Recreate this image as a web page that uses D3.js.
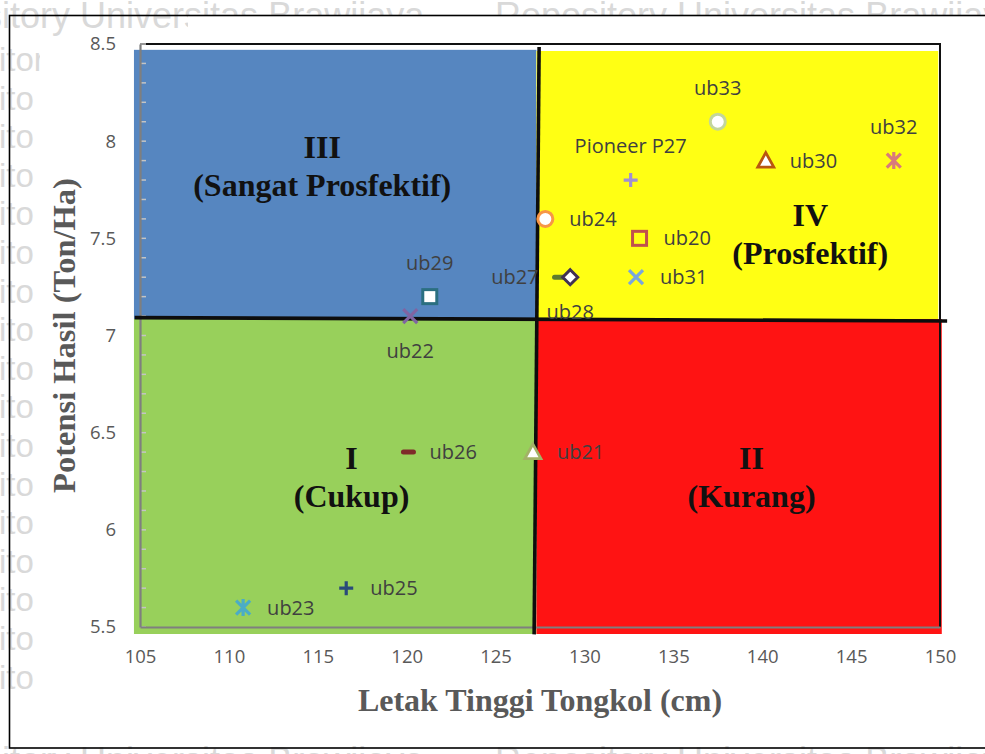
<!DOCTYPE html>
<html>
<head>
<meta charset="utf-8">
<script src="https://cdn.jsdelivr.net/npm/d3@7"></script>
<style>
  html, body { margin: 0; padding: 0; background: #fff; }
  svg { display: block; }
</style>
</head>
<body>
<svg id="chart" width="985" height="754"></svg>
<script>
// Genotype positions: ear height (cm) against yield potential (ton/ha)
const genotypes = ["ub33", "ub32", "ub30", "Pioneer P27", "ub24", "ub20", "ub27", "ub28", "ub31",
                   "ub29", "ub22", "ub26", "ub21", "ub25", "ub23"];
const earHeight = [137.5, 147.4, 140.2, 132.6, 127.8, 133.1, 128.6, 129.2, 132.9,
                   121.3, 120.2, 120.1, 127.1, 116.6, 110.8];
const yieldPotential = [8.1, 7.9, 7.9, 7.8, 7.6, 7.5, 7.3, 7.3, 7.3,
                        7.2, 7.1, 6.4, 6.4, 5.7, 5.6];

// Axis ticks
const xTicks = [105, 110, 115, 120, 125, 130, 135, 140, 145, 150];
const yTicks = [5.5, 6, 6.5, 7, 7.5, 8, 8.5];
const yMinorTicks = d3.range(55, 86).map(d => d / 10);

// Quadrant split (mean ear height, mean yield) and the extent of the shaded blocks
const splitX = 127.3;
const splitY = 7.085;
const blockX = [104.66, 150.1];
const blockY = [5.464, 8.47];
const quadrants = [
  { id: "III", name: "(Sangat Prosfektif)" },
  { id: "IV",  name: "(Prosfektif)" },
  { id: "I",   name: "(Cukup)" },
  { id: "II",  name: "(Kurang)" }
];

// Marker styling per genotype
const markerStyle = {
  "ub33":        { shape: "circle",   color: "#c3d69b", label: "above" },
  "ub32":        { shape: "asterisk", color: "#d9797c", label: "above" },
  "ub30":        { shape: "triangle", color: "#b9560f", label: "right" },
  "Pioneer P27": { shape: "plus",     color: "#a08fd2", label: "above" },
  "ub24":        { shape: "circle",   color: "#f79646", label: "right" },
  "ub20":        { shape: "squareOpen", color: "#c0504d", label: "right" },
  "ub27":        { shape: "dash",     color: "#5e7a2e", label: "left" },
  "ub28":        { shape: "diamond",  color: "#403152", label: "below" },
  "ub31":        { shape: "x",        color: "#7aa6dc", label: "right" },
  "ub29":        { shape: "square",   color: "#2b6f80", label: "above" },
  "ub22":        { shape: "x",        color: "#8064a2", label: "below" },
  "ub26":        { shape: "dash",     color: "#7f2b2a", label: "right" },
  "ub21":        { shape: "triangle", color: "#a2b266", label: "right" },
  "ub25":        { shape: "plus",     color: "#2a4a7a", label: "right" },
  "ub23":        { shape: "asterisk", color: "#4bacc6", label: "right" }
};

const svg = d3.select("#chart");
const W = 985, H = 754;

const x = d3.scaleLinear().domain([105, 150]).range([140, 940]);
const y = d3.scaleLinear().domain([5.5, 8.5]).range([627, 44]);

svg.append("rect").attr("width", W).attr("height", H).attr("fill", "#fff");

// Repository watermark behind the chart
const defs = svg.append("defs");
const wmClip = defs.append("clipPath").attr("id", "wm-clip");
wmClip.append("rect").attr("x", 0).attr("y", 0).attr("width", W).attr("height", 15);
wmClip.append("rect").attr("x", 0).attr("y", 0).attr("width", 188).attr("height", 37);
wmClip.append("rect").attr("x", 0).attr("y", 0).attr("width", 40).attr("height", H);
wmClip.append("rect").attr("x", 0).attr("y", 741).attr("width", W).attr("height", 20);

const wm = svg.append("g").attr("clip-path", "url(#wm-clip)")
  .attr("fill", "#d9d9d9")
  .style("font-family", "'Liberation Sans', Arial, sans-serif");
const wmPhrase = "Repository Universitas Brawijaya";
[28, 773].forEach(base => {
  wm.append("text").attr("x", -102).attr("y", base).style("font-size", "36px").text(wmPhrase);
  wm.append("text").attr("x", 495).attr("y", base).style("font-size", "36px").text(wmPhrase);
});
const sideRows = d3.range(0, 17).map(i => 71 + i * 38.6);
wm.selectAll("text.side").data(sideRows).join("text")
  .attr("class", "side")
  .attr("x", -1).attr("y", d => d)
  .style("font-size", "33px")
  .text((d, i) => i === 0 ? "itor" : "ito");

// Outer chart frame
svg.append("rect")
  .attr("x", 9.5).attr("y", 15.5).attr("width", 1000).attr("height", 732.5)
  .attr("fill", "none").attr("stroke", "#000").attr("stroke-width", 1.6);

// Shaded quadrant blocks
const blocks = [
  { x0: blockX[0], x1: splitX, y0: splitY, y1: blockY[1], fill: "#5686c0" },
  { x0: splitX, x1: 149.9, y0: splitY, y1: 8.464, fill: "#ffff14" },
  { x0: blockX[0], x1: splitX, y0: blockY[0], y1: splitY, fill: "#98d05b" },
  { x0: splitX, x1: blockX[1], y0: blockY[0], y1: splitY, fill: "#ff1313" }
];
svg.append("g").selectAll("rect").data(blocks).join("rect")
  .attr("x", d => x(d.x0))
  .attr("y", d => y(d.y1))
  .attr("width", d => x(d.x1) - x(d.x0))
  .attr("height", d => y(d.y0) - y(d.y1))
  .attr("fill", d => d.fill);

// Plot frame: top and right edges
svg.append("path")
  .attr("d", `M${x(105)},${y(8.5)}H${x(150)}V${y(5.5)}`)
  .attr("fill", "none").attr("stroke", "#111").attr("stroke-width", 2);

// Minor ticks on the value axis
svg.append("g").selectAll("line").data(yMinorTicks).join("line")
  .attr("x1", x(105)).attr("x2", x(105) + 6)
  .attr("y1", d => y(d)).attr("y2", d => y(d))
  .attr("stroke", "#c4c4c4").attr("stroke-width", 1.5);

// Axes
const tickFont = "'Open Sans', sans-serif";
const yAxis = svg.append("g").attr("transform", `translate(${x(105)},0)`)
  .call(d3.axisLeft(y).tickValues(yTicks).tickSize(0).tickPadding(24).tickFormat(d => String(d)));
const xAxis = svg.append("g").attr("transform", `translate(0,${y(5.5)})`)
  .call(d3.axisBottom(x).tickValues(xTicks).tickSize(0).tickPadding(23).tickFormat(d => String(d)));
[xAxis, yAxis].forEach(g => {
  g.select(".domain").attr("stroke", "#7f7f7f").attr("stroke-width", 2.2);
  g.selectAll("text").attr("fill", "#595959")
    .style("font-family", tickFont).style("font-size", "18.5px");
});

// Quadrant divider lines (mean ear height, mean yield)
svg.append("line")
  .attr("x1", x(127.45)).attr("y1", y(8.485))
  .attr("x2", x(127.17)).attr("y2", y(5.462))
  .attr("stroke", "#0d0d0d").attr("stroke-width", 3.6);
svg.append("line")
  .attr("x1", x(104.7)).attr("y1", y(7.092))
  .attr("x2", x(150.4)).attr("y2", y(7.075))
  .attr("stroke", "#0d0d0d").attr("stroke-width", 3.6);

// Quadrant captions
const capX = { "III": 115.25, "IV": 142.7, "I": 116.9, "II": 139.4 };
const capY = { "III": 7.913, "IV": 7.564, "I": 6.313, "II": 6.313 };
const caps = svg.append("g")
  .style("font-family", "'Liberation Serif', 'Times New Roman', serif")
  .style("font-weight", "bold").style("font-size", "32px")
  .attr("fill", "#111").attr("text-anchor", "middle");
quadrants.forEach(q => {
  const t = caps.append("text").attr("x", x(capX[q.id])).attr("y", y(capY[q.id]));
  t.append("tspan").attr("x", x(capX[q.id])).text(q.id);
  t.append("tspan").attr("x", x(capX[q.id])).attr("dy", 38).text(q.name);
});

// Markers
const pts = genotypes.map((g, i) => ({ name: g, vx: earHeight[i], vy: yieldPotential[i], ...markerStyle[g] }));

function markerPath(shape) {
  switch (shape) {
    case "plus": return "M-7,0H7M0,-7V7";
    case "x": return "M-7,-7L7,7M-7,7L7,-7";
    case "asterisk": return "M-7,-7L7,7M-7,7L7,-7M0,-8.5V8.5";
    case "dash": return "M-5,0H5";
    default: return null;
  }
}

const mk = svg.append("g");
pts.forEach(p => {
  const g = mk.append("g").attr("transform", `translate(${x(p.vx)},${y(p.vy)})`);
  if (p.shape === "circle") {
    g.append("circle").attr("r", 7.5).attr("fill", "#fff").attr("stroke", p.color).attr("stroke-width", 3);
  } else if (p.shape === "triangle") {
    g.append("path").attr("d", "M0,-8L8,6.5L-8,6.5Z")
      .attr("fill", "#fff").attr("stroke", p.color).attr("stroke-width", 2.8).attr("stroke-linejoin", "miter");
  } else if (p.shape === "square" || p.shape === "squareOpen") {
    g.append("rect").attr("x", -7).attr("y", -7).attr("width", 14).attr("height", 14)
      .attr("fill", p.shape === "square" ? "#fff" : "none").attr("stroke", p.color).attr("stroke-width", 3);
  } else if (p.shape === "diamond") {
    g.append("path").attr("d", "M0,-7.5L7.5,0L0,7.5L-7.5,0Z")
      .attr("fill", "#fff").attr("stroke", p.color).attr("stroke-width", 3);
  } else {
    g.append("path").attr("d", markerPath(p.shape))
      .attr("fill", "none").attr("stroke", p.color)
      .attr("stroke-width", p.shape === "dash" ? 5 : 3.2)
      .attr("stroke-linecap", p.shape === "dash" ? "round" : "butt");
  }
});

// Data labels
const lab = svg.append("g")
  .style("font-family", "'Open Sans', sans-serif").style("font-size", "20px")
  .attr("fill", "#404040");
pts.forEach(p => {
  const px = x(p.vx), py = y(p.vy);
  let tx = px, ty = py, anchor = "middle";
  if (p.label === "right") { tx = px + (p.shape === "dash" ? 21 : 24); anchor = "start"; }
  if (p.label === "left") { tx = px - 21; anchor = "end"; }
  if (p.label === "above") { ty = py - 34; }
  if (p.label === "below") { ty = py + 35; }
  lab.append("text").attr("x", tx).attr("y", ty).attr("dy", "0.35em")
    .attr("text-anchor", anchor).text(p.name);
});

// Axis titles
const titleFont = "'Liberation Serif', 'Times New Roman', serif";
svg.append("text")
  .attr("x", x(127.5)).attr("y", 711)
  .attr("text-anchor", "middle").attr("fill", "#595959")
  .style("font-family", titleFont)
  .style("font-weight", "bold").style("font-size", "32px")
  .text("Letak Tinggi Tongkol (cm)");
svg.append("text")
  .attr("transform", `translate(75,${y(7)}) rotate(-90)`)
  .attr("text-anchor", "middle").attr("fill", "#595959")
  .style("font-family", titleFont)
  .style("font-weight", "bold").style("font-size", "32.5px")
  .text("Potensi Hasil (Ton/Ha)");
</script>
</body>
</html>
